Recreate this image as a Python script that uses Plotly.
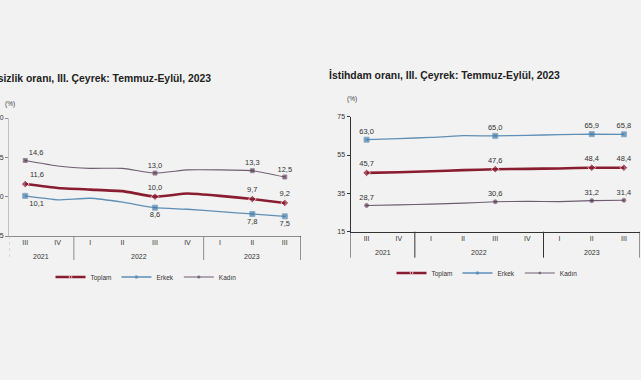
import plotly.graph_objects as go

# ---- data -------------------------------------------------------------
years = ["2021", "2021", "2022", "2022", "2022", "2022", "2023", "2023", "2023"]
quarters = ["III", "IV", "I", "II", "III", "IV", "I", "II", "III"]

# İşsizlik oranı (%)
unemp_total = [11.6, 11.1, 10.9, 10.7, 10.0, 10.4, 10.1, 9.7, 9.2]
unemp_male = [10.1, 9.6, 9.8, 9.3, 8.6, 8.4, 8.1, 7.8, 7.5]
unemp_female = [14.6, 13.9, 13.6, 13.6, 13.0, 13.4, 13.4, 13.3, 12.5]

# İstihdam oranı (%)
emp_total = [45.7, 46.0, 46.5, 47.1, 47.6, 47.8, 48.0, 48.4, 48.4]
emp_male = [63.0, 63.6, 64.2, 65.1, 65.0, 65.3, 65.6, 65.9, 65.8]
emp_female = [28.7, 29.0, 29.4, 29.9, 30.6, 30.9, 30.7, 31.2, 31.4]

labelled = [True, False, False, False, True, False, False, True, True]

left_title = "İşsizlik oranı, III. Çeyrek: Temmuz-Eylül, 2023"
right_title = "İstihdam oranı, III. Çeyrek: Temmuz-Eylül, 2023"

# ---- styling ----------------------------------------------------------
W, H = 641, 380
BG = "#f2f2f2"
FONT = "Liberation Sans, Arial, sans-serif"
C_TOTAL = "#8a1c30"
C_MALE_LINE = "#5e8fb6"
C_MALE_MK = "#3c78a6"
C_FEM_LINE = "#6d5d70"
C_FEM_MK = "#5b2848"
TXT = "#333333"


def px_x(p):
    return p / W


def px_y(p):
    return 1 - p / H


def labels(vals):
    return [f"{v:.1f}".replace(".", ",") if l else "" for v, l in zip(vals, labelled)]


def sizes(s):
    return [s if l else 0 for l in labelled]


def positions(base, first):
    return [first if i == 0 else base for i in range(len(labelled))]


x_keys = [f"{y}-{q}" for y, q in zip(years, quarters)]
fig = go.Figure()

specs = [
    (unemp_total, "Toplam", C_TOTAL, 2.6, C_TOTAL, "diamond", 6, "x", "y", "legend", "top center", "top right"),
    (unemp_male, "Erkek", C_MALE_LINE, 1.3, C_MALE_MK, "square", 5, "x", "y", "legend", "bottom center", "bottom right"),
    (unemp_female, "Kadın", C_FEM_LINE, 1.1, C_FEM_MK, "square", 4, "x", "y", "legend", "top center", "top right"),
    (emp_total, "Toplam", C_TOTAL, 2.6, C_TOTAL, "diamond", 6, "x2", "y2", "legend2", "top center", "top center"),
    (emp_male, "Erkek", C_MALE_LINE, 1.3, C_MALE_MK, "square", 5, "x2", "y2", "legend2", "top center", "top center"),
    (emp_female, "Kadın", C_FEM_LINE, 1.1, C_FEM_MK, "circle", 4, "x2", "y2", "legend2", "top center", "top center"),
]

for vals, name, lc, lw, mc, sym, ms, xa, ya, lg, tp, fp in specs:
    fig.add_trace(go.Scatter(
        x=x_keys, y=vals, name=name,
        mode="lines+markers+text",
        line=dict(color=lc, width=lw, shape="spline", smoothing=0.4),
        marker=dict(color=mc, size=sizes(ms), symbol=sym),
        text=labels(vals),
        textposition=positions(tp, fp),
        textfont=dict(size=7.5, color=TXT, family=FONT),
        xaxis=xa, yaxis=ya, legend=lg,
        cliponaxis=False, hoverinfo="skip",
    ))

axis_font = dict(size=7, color=TXT, family=FONT)

# year groups (derived from the data lists)
groups = []
for i, y in enumerate(years):
    if not groups or groups[-1][0] != y:
        groups.append([y, i, i])
    else:
        groups[-1][2] = i

annotations = []
shapes = []
for xa, ya, year_y, inner_col, end_col, left_col, left_dash, depth in [
    ("x", "y", 256, "#8c8c8c", "#333333", "#c0c0c0", "dot", -24 / 118),
    ("x2", "y2", 252.3, "#333333", "#333333", "#333333", "solid", -26 / 115),
]:
    for y, a, b in groups:
        annotations.append(dict(
            text=y, xref=xa, yref="paper", x=(a + b) / 2, y=px_y(year_y),
            xanchor="center", yanchor="middle", showarrow=False, font=axis_font))
    bounds = [groups[0][1] - 0.5] + [g[2] + 0.5 for g in groups]
    for k, bx in enumerate(bounds):
        if k == 0:
            col, dash = left_col, left_dash
        elif k == len(bounds) - 1:
            col, dash = end_col, "solid"
        else:
            col, dash = inner_col, "solid"
        shapes.append(dict(
            type="line", xref=xa, yref=f"{ya} domain", x0=bx, x1=bx, y0=0, y1=depth,
            line=dict(color=col, width=1, dash=dash)))

annotations += [
    dict(text=f"<b>{left_title}</b>", xref="paper", yref="paper",
         x=px_x(213), xanchor="right", y=px_y(78), yanchor="middle",
         showarrow=False, font=dict(size=10.4, color="#222222", family=FONT)),
    dict(text=f"<b>{right_title}</b>", xref="paper", yref="paper",
         x=px_x(327), xanchor="left", y=px_y(75), yanchor="middle",
         showarrow=False, font=dict(size=10.4, color="#222222", family=FONT)),
    dict(text="(%)", xref="paper", yref="paper",
         x=px_x(10), xanchor="center", y=px_y(104), yanchor="middle",
         showarrow=False, font=dict(size=6.5, color="#444444", family=FONT)),
    dict(text="(%)", xref="paper", yref="paper",
         x=px_x(352), xanchor="center", y=px_y(99), yanchor="middle",
         showarrow=False, font=dict(size=6.5, color="#444444", family=FONT)),
]

common_x = dict(type="category", range=[-0.5, len(x_keys) - 0.5],
                tickvals=x_keys, ticktext=quarters, ticks="", showgrid=False,
                zeroline=False, tickfont=axis_font, automargin=False, fixedrange=True)

fig.update_layout(
    width=W, height=H,
    template="none",
    paper_bgcolor=BG, plot_bgcolor=BG,
    margin=dict(l=0, r=0, t=0, b=0),
    font=dict(family=FONT, color=TXT),
    xaxis=dict(domain=[px_x(9), px_x(301)], anchor="y",
               showline=True, linecolor="#8c8c8c", linewidth=1, **common_x),
    yaxis=dict(
        domain=[px_y(236), px_y(118)], anchor="x",
        range=[5, 20], tick0=5, dtick=5, ticks="outside", ticklen=3, tickcolor="#8c8c8c",
        showline=True, linecolor="#c0c0c0", linewidth=1, fixedrange=True,
        showgrid=False, zeroline=False, tickfont=axis_font, automargin=False,
    ),
    xaxis2=dict(domain=[px_x(350.5), px_x(640)], anchor="y2",
                showline=True, linecolor="#333333", linewidth=1, **common_x),
    yaxis2=dict(
        domain=[px_y(231.7), px_y(116.7)], anchor="x2",
        range=[15, 75], tick0=15, dtick=20, ticks="outside", ticklen=3, tickcolor="#333333",
        showline=True, linecolor="#333333", linewidth=1, fixedrange=True,
        showgrid=False, zeroline=False, tickfont=axis_font, automargin=False,
    ),
    legend=dict(
        orientation="h", x=px_x(146), xanchor="center", y=px_y(277), yanchor="middle",
        font=dict(size=6.5, color=TXT, family=FONT), bgcolor="rgba(0,0,0,0)",
        itemwidth=30, tracegroupgap=0,
    ),
    legend2=dict(
        orientation="h", x=px_x(487), xanchor="center", y=px_y(273), yanchor="middle",
        font=dict(size=6.5, color=TXT, family=FONT), bgcolor="rgba(0,0,0,0)",
        itemwidth=30, tracegroupgap=0,
    ),
    annotations=annotations,
    shapes=shapes,
    showlegend=True,
)

fig.write_html(
    "out.html",
    config={"displayModeBar": False},
    post_script="document.body.style.margin='0';document.body.style.overflow='hidden';",
)
